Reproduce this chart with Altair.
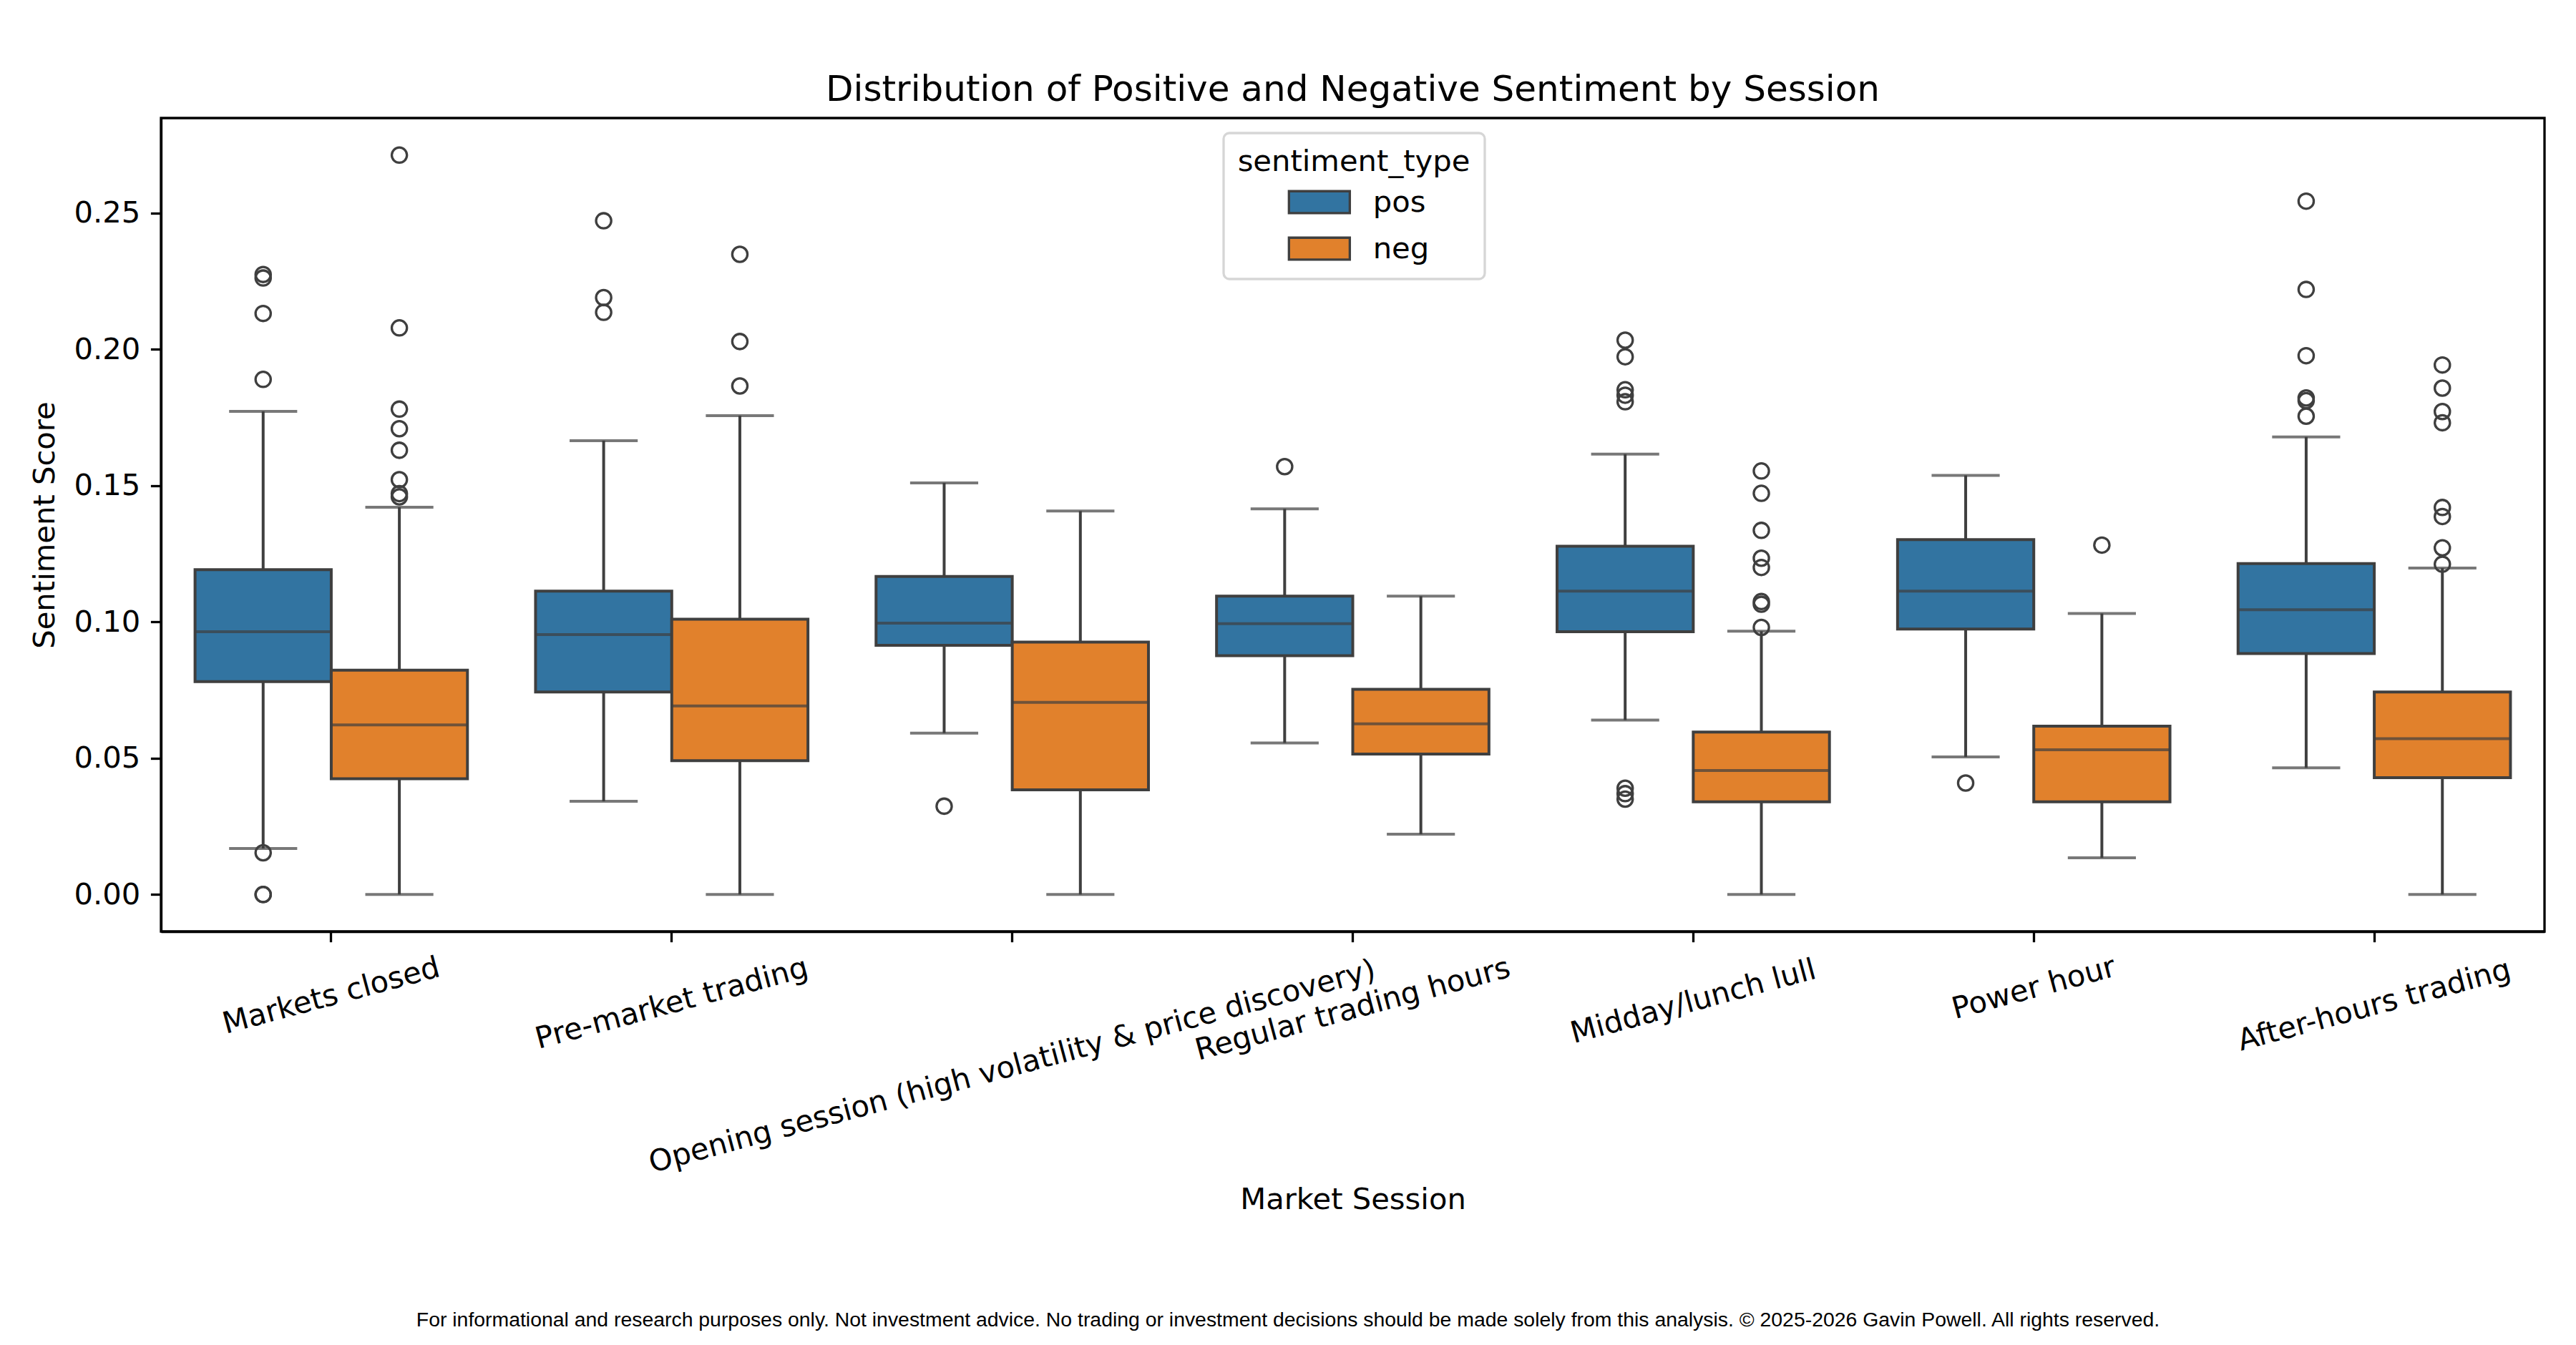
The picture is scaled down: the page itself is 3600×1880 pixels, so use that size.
import altair as alt
import pandas as pd

SESSIONS = [
    "Markets closed",
    "Pre-market trading",
    "Opening session (high volatility & price discovery)",
    "Regular trading hours",
    "Midday/lunch lull",
    "Power hour",
    "After-hours trading",
]
TYPES = ["pos", "neg"]
COLORS = ["#3274a1", "#e1812c"]

POS_LO = [0.0169, 0.0342, 0.0592, 0.0556, 0.0640, 0.0505, 0.0465]
POS_Q1 = [0.0781, 0.0743, 0.0914, 0.0876, 0.0964, 0.0974, 0.0884]
POS_MED = [0.0964, 0.0954, 0.0996, 0.0994, 0.1113, 0.1113, 0.1045]
POS_Q3 = [0.1192, 0.1113, 0.1167, 0.1095, 0.1278, 0.1302, 0.1214]
POS_HI = [0.1773, 0.1665, 0.1510, 0.1415, 0.1616, 0.1538, 0.1679]

NEG_LO = [0.0, 0.0, 0.0, 0.0221, 0.0, 0.0135, 0.0]
NEG_Q1 = [0.0425, 0.0491, 0.0384, 0.0515, 0.0340, 0.0340, 0.0429]
NEG_MED = [0.0622, 0.0692, 0.0705, 0.0626, 0.0455, 0.0531, 0.0572]
NEG_Q3 = [0.0823, 0.1010, 0.0926, 0.0753, 0.0596, 0.0618, 0.0743]
NEG_HI = [0.1421, 0.1757, 0.1407, 0.1095, 0.0966, 0.1031, 0.1198]

POS_OUT = [
    [0.2275, 0.2262, 0.2132, 0.1890, 0.0153, 0.0, 0.0],
    [0.2472, 0.2190, 0.2136],
    [0.0324],
    [0.1570],
    [0.2034, 0.1973, 0.1852, 0.1832, 0.1808, 0.0390, 0.0370, 0.0350],
    [0.0409],
    [0.2544, 0.2220, 0.1977, 0.1822, 0.1812, 0.1755],
]
NEG_OUT = [
    [0.2713, 0.2079, 0.1781, 0.1709, 0.1630, 0.1522, 0.1471, 0.1459],
    [0.2349, 0.2029, 0.1866],
    [],
    [],
    [0.1554, 0.1472, 0.1336, 0.1234, 0.1200, 0.1075, 0.1065, 0.0980],
    [0.1282],
    [0.1943, 0.1858, 0.1772, 0.1731, 0.1420, 0.1387, 0.1272, 0.1212],
]

TITLE = "Distribution of Positive and Negative Sentiment by Session"
FOOTER = ("For informational and research purposes only. Not investment advice. "
          "No trading or investment decisions should be made solely from this analysis. "
          "\u00a9 2025-2026 Gavin Powell. All rights reserved.")

# ---- tables built from the arrays ----
rows = []
for t, lo, q1, md, q3, hi in [
    ("pos", POS_LO, POS_Q1, POS_MED, POS_Q3, POS_HI),
    ("neg", NEG_LO, NEG_Q1, NEG_MED, NEG_Q3, NEG_HI),
]:
    for i, s in enumerate(SESSIONS):
        rows.append({"session": s, "sentiment_type": t, "lo": lo[i], "q1": q1[i],
                     "med": md[i], "q3": q3[i], "hi": hi[i]})
stats = pd.DataFrame(rows)

orows = []
for t, outs in [("pos", POS_OUT), ("neg", NEG_OUT)]:
    for i, s in enumerate(SESSIONS):
        for v in outs[i]:
            orows.append({"session": s, "sentiment_type": t, "value": v})
outl = pd.DataFrame(orows)

labels_df = pd.DataFrame({"session": SESSIONS})
footer_df = pd.DataFrame({"t": [FOOTER]})

W, H = 3331, 1137
BAND = W / len(SESSIONS)
BOXW = BAND * 0.4
LINE = "#3f3f3f"
LW = 4
FONT = "DejaVu Sans"
FS = 41.7

x_enc = alt.X(
    "session:N", sort=SESSIONS,
    scale=alt.Scale(paddingInner=0, paddingOuter=0),
    axis=alt.Axis(labels=False, title="Market Session", titlePadding=338,
                  titleFont=FONT, titleFontSize=FS, titleFontWeight="normal",
                  titleColor="black", ticks=True, tickSize=14.6, tickWidth=3.3,
                  tickColor="black", domainColor="black", domainWidth=3.3, grid=False),
)
xo_enc = alt.XOffset("sentiment_type:N", sort=TYPES,
                     scale=alt.Scale(domain=TYPES, paddingInner=0, paddingOuter=0.25))
y_scale = alt.Scale(domain=[-0.01357, 0.2849], nice=False, zero=False)
y_axis = alt.Axis(values=[0, 0.05, 0.10, 0.15, 0.20, 0.25], format=".2f",
                  title="Sentiment Score", titleFont=FONT, titleFontSize=FS,
                  titleFontWeight="normal", titleColor="black", titlePadding=18,
                  labelFont=FONT, labelFontSize=FS, labelColor="black", labelPadding=14.6,
                  tickSize=14.6, tickWidth=3.3, tickColor="black",
                  domainColor="black", domainWidth=3.3, grid=False)

base = alt.Chart(stats)

whisk = base.mark_rule(color=LINE, strokeWidth=LW).encode(
    x=x_enc, xOffset=xo_enc,
    y=alt.Y("lo:Q", scale=y_scale, axis=y_axis),
    y2="hi:Q",
)
caps_hi = base.mark_tick(color=LINE, thickness=LW, size=BOXW / 2, orient="horizontal").encode(
    x=x_enc, xOffset=xo_enc, y=alt.Y("hi:Q", scale=y_scale, axis=y_axis))
caps_lo = base.mark_tick(color=LINE, thickness=LW, size=BOXW / 2, orient="horizontal").encode(
    x=x_enc, xOffset=xo_enc, y=alt.Y("lo:Q", scale=y_scale, axis=y_axis))

boxes = base.mark_bar(stroke=LINE, strokeWidth=LW, opacity=1).encode(
    x=x_enc, xOffset=xo_enc,
    y=alt.Y("q1:Q", scale=y_scale, axis=y_axis),
    y2="q3:Q",
    color=alt.Color(
        "sentiment_type:N", sort=TYPES,
        scale=alt.Scale(domain=TYPES, range=COLORS),
        legend=alt.Legend(
            title="sentiment_type", orient="none", legendX=1485, legendY=21,
            titleFont=FONT, titleFontSize=FS, titleFontWeight="normal", titleColor="black",
            titleAnchor="middle", titleAlign="center", titlePadding=14, titleLimit=2000,
            labelFont=FONT, labelFontSize=FS, labelColor="black", labelLimit=2000,
            symbolType="M-2.78,-1L2.78,-1L2.78,1L-2.78,1Z", symbolSize=936,
            symbolStrokeColor=LINE, symbolStrokeWidth=3.3, symbolOpacity=1,
            symbolOffset=37, labelOffset=54, rowPadding=20,
            padding=20, fillColor="white", strokeColor="#d6d6d6",
            cornerRadius=8,
        ),
    ),
)
medians = base.mark_tick(color=LINE, thickness=LW, size=BOXW, orient="horizontal").encode(
    x=x_enc, xOffset=xo_enc, y=alt.Y("med:Q", scale=y_scale, axis=y_axis))

points = alt.Chart(outl).mark_point(shape="circle", filled=False, size=450,
                                    strokeWidth=3.3, color=LINE, opacity=1).encode(
    x=x_enc, xOffset=xo_enc, y=alt.Y("value:Q", scale=y_scale, axis=y_axis))

# label offsets: downward shift D (page coords) expressed in the rotated text frame
D_EXPR = "(23.7 + 2.67 * length(datum.session))"
xlabels = alt.Chart(labels_df).mark_text(
    angle=345, align="center", baseline="middle", font=FONT, fontSize=FS, color="black",
    dy=alt.expr(D_EXPR + " * 0.9659"),
    dx=alt.expr("-" + D_EXPR + " * 0.2588"),
).encode(x=x_enc, y=alt.value(H + 29), text="session:N")

footer = alt.Chart(footer_df).mark_text(
    align="center", baseline="alphabetic", font="Liberation Sans", fontSize=28.4, color="black",
).encode(x=alt.value(1575), y=alt.value(1689), text="t:N")

chart = alt.layer(whisk, caps_hi, caps_lo, boxes, medians, points, xlabels, footer).properties(
    width=W, height=H,
    autosize=alt.AutoSizeParams(type="none"),
    padding={"left": 217, "top": 157, "right": 36, "bottom": 570},
    background="white",
    title=alt.Title(TITLE, font=FONT, fontSize=50, fontWeight="normal", color="black",
                    anchor="middle", baseline="alphabetic", offset=-26),
).configure_view(stroke="black", strokeWidth=3.3).configure_legend(strokeWidth=3.3)

chart.save("out.html", embed_options={"renderer": "svg", "actions": False})
